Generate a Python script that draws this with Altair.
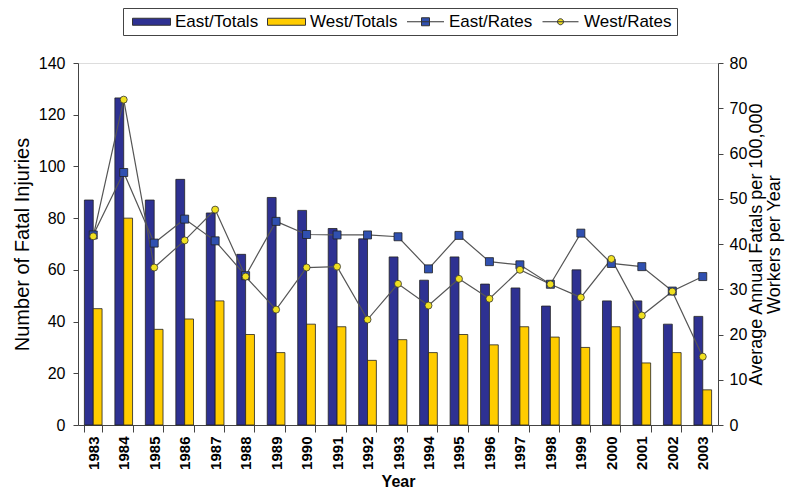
import altair as alt
import pandas as pd

years = [str(y) for y in range(1983, 2004)]
east_totals = [87, 126.5, 87, 95, 82, 66, 88, 83, 76, 72, 65, 56, 65, 54.5, 53, 46, 60, 48, 48, 39, 42]
west_totals = [45, 80, 37, 41, 48, 35, 28, 39, 38, 25, 33, 28, 35, 31, 38, 34, 30, 38, 24, 28, 13.6]
east_rates = [42, 55.8, 40.2, 45.5, 40.7, 33, 45, 42.1, 42, 42, 41.6, 34.5, 41.9, 36.1, 35.4, 31.1, 42.4, 35.7, 35, 29.6, 32.8]
west_rates = [41.7, 71.9, 34.8, 40.8, 47.6, 32.8, 25.5, 34.8, 35, 23.3, 31.2, 26.4, 32.3, 27.9, 34.3, 31.1, 28.2, 36.7, 24.2, 29.5, 15.1]

series_names = ["East/Totals", "West/Totals", "East/Rates", "West/Rates"]
series_colors = ["#2E3192", "#FFCC00", "#3050B0", "#F0E020"]
legend_paths = [
    "M-3.8,-0.7H3.8V0.7H-3.8Z",
    "M-3.8,-0.7H3.8V0.7H-3.8Z",
    "M-3.7,0H3.7M-0.8,-0.8H0.8V0.8H-0.8Z",
    "M-3.6,0H3.6M0.6,0A0.6,0.6,0,1,1,-0.6,0A0.6,0.6,0,1,1,0.6,0Z",
]

bars = pd.DataFrame({
    "Year": years * 2,
    "group": ["East"] * len(years) + ["West"] * len(years),
    "series": ["East/Totals"] * len(years) + ["West/Totals"] * len(years),
    "value": east_totals + west_totals,
})
east_df = pd.DataFrame({"Year": years, "series": "East/Rates", "value": east_rates})
west_df = pd.DataFrame({"Year": years, "series": "West/Rates", "value": west_rates})
rates = pd.concat([east_df, west_df], ignore_index=True)
# legend-only rows, placed below the visible range and clipped away
legend_rows = pd.DataFrame({"Year": [years[0]] * 4, "series": series_names, "value": [-100] * 4})

FONT = "Liberation Sans"

legend = alt.Legend(
    title=None,
    orient="none",
    legendX=45,
    legendY=-55,
    direction="horizontal",
    fillColor="white",
    strokeColor="#444",
    padding=5,
    labelFont=FONT,
    labelFontSize=17,
    labelColor="black",
    symbolSize=100,
    symbolOffset=15,
    labelOffset=15,
    columnPadding=4,
    symbolStrokeColor="#333",
    symbolStrokeWidth=1,
)

color = alt.Color("series:N", scale=alt.Scale(domain=series_names, range=series_colors), legend=legend)

x_enc = alt.X(
    "Year:N",
    sort=years,
    scale=alt.Scale(paddingInner=0.42, paddingOuter=0.21),
    axis=alt.Axis(
        title="Year",
        titleFont=FONT,
        titleFontSize=16,
        titleFontWeight="bold",
        titleColor="black",
        titlePadding=4,
        labelAngle=270,
        labelFont=FONT,
        labelFontSize=15,
        labelFontWeight="bold",
        labelColor="black",
        labelPadding=4,
        tickBand="extent",
        tickSize=7,
        tickColor="#444",
        domainColor="#444",
    ),
)

bar_layer = alt.Chart(bars).mark_bar(stroke="#222", strokeWidth=0.8).encode(
    x=x_enc,
    xOffset=alt.XOffset("group:N", scale=alt.Scale(paddingInner=0, paddingOuter=0)),
    y=alt.Y(
        "value:Q",
        scale=alt.Scale(domain=[0, 140], nice=False),
        axis=alt.Axis(
            title="Number of Fatal Injuries",
            values=list(range(0, 141, 20)),
            grid=False,
            titleFont=FONT,
            titleFontSize=20,
            titleFontWeight="normal",
            titleColor="black",
            titlePadding=6,
            labelFont=FONT,
            labelFontSize=16,
            labelColor="black",
            labelPadding=8,
            tickSize=5,
            tickColor="#444",
            domainColor="#444",
        ),
    ),
    color=color,
)

y_scale_right = alt.Scale(domain=[0, 80], nice=False)
y_right = alt.Y(
    "value:Q",
    scale=y_scale_right,
    axis=alt.Axis(
        orient="right",
        title=["Average Annual Fatals per 100,000", "Workers per Year"],
        titleAngle=270,
        titleLineHeight=18,
        values=list(range(0, 81, 10)),
        grid=False,
        titleFont=FONT,
        titleFontSize=18,
        titleFontWeight="normal",
        titleColor="black",
        titlePadding=1,
        labelFont=FONT,
        labelFontSize=16,
        labelColor="black",
        labelPadding=6,
        tickSize=5,
        tickColor="#444",
        domainColor="#444",
    ),
)

line_layer = alt.Chart(rates).mark_line(color="#555", strokeWidth=1.2).encode(
    x=alt.X("Year:N", sort=years),
    y=y_right,
    detail="series:N",
)

east_points = alt.Chart(east_df).mark_point(
    filled=True, opacity=1, shape="square", size=64, stroke="#222", strokeWidth=0.8
).encode(
    x=alt.X("Year:N", sort=years),
    y=alt.Y("value:Q", scale=y_scale_right),
    color=color,
)
west_points = alt.Chart(west_df).mark_point(
    filled=True, opacity=1, shape="circle", size=49, stroke="#333", strokeWidth=0.8
).encode(
    x=alt.X("Year:N", sort=years),
    y=alt.Y("value:Q", scale=y_scale_right),
    color=color,
)
legend_layer = alt.Chart(legend_rows).mark_point(
    filled=True, opacity=1, size=100, stroke="#333", strokeWidth=1, clip=True
).encode(
    x=alt.X("Year:N", sort=years),
    y=alt.Y("value:Q", scale=y_scale_right),
    color=color,
    shape=alt.Shape("series:N", scale=alt.Scale(domain=series_names, range=legend_paths), legend=legend),
)

rate_layers = alt.layer(line_layer, east_points, west_points, legend_layer)

chart = alt.layer(bar_layer, rate_layers).resolve_scale(y="independent").properties(
    width=640,
    height=362,
    autosize=alt.AutoSizeParams(type="none"),
    padding={"left": 70, "top": 55, "right": 67, "bottom": 64},
).configure_view(stroke="#888", strokeWidth=1).configure(background="white")

chart.save("out.html", embed_options={"renderer": "svg", "actions": False})
